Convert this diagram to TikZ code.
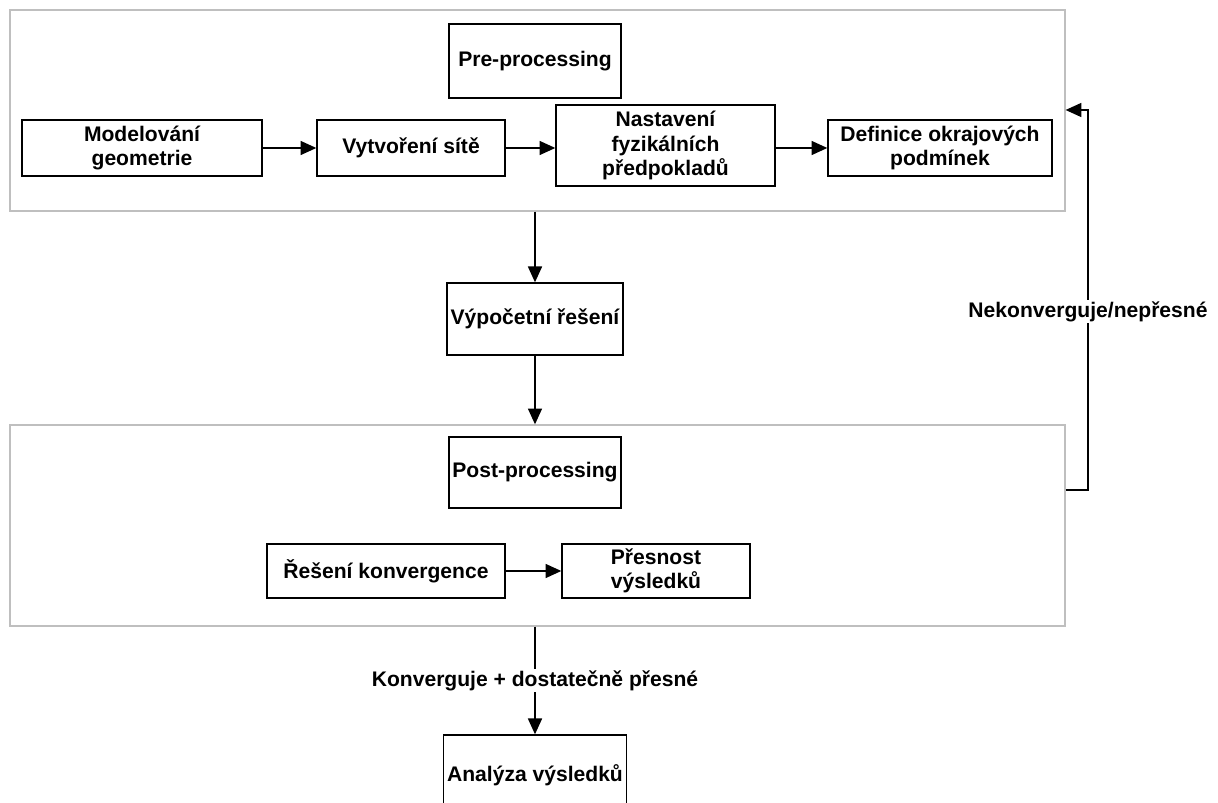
\documentclass[tikz,border=0pt]{standalone}
\usepackage{fontspec}
\setmainfont{Liberation Sans}
\usepackage{tikz}
\usetikzlibrary{calc}
\usetikzlibrary{positioning}
\usetikzlibrary{arrows.meta}

\begin{document}
\begin{tikzpicture}[x=0.02cm, y=-0.02cm,
    font=\bfseries\fontsize{12}{14}\selectfont,
    blok/.style={draw, thick, align=center, inner sep=2pt},
    ramec/.style={draw=black!25, thick, minimum width=21.1cm, minimum height=4.02cm},
    sipka/.style={-{Triangle[length=9pt, width=8pt]}, thick}]

                \useasboundingbox (0, 0) rectangle (1218, 803);

                % Frames round the pre- and post-processing steps
                \begin{scope}
                    \node[ramec] (R1) at (537.5, 110.5) {};
                    \node[ramec] (R2) at (537.5, 525.5) {};
                \end{scope}

                % Scope with the boxes
                \begin{scope}
                    \node[blok, minimum width=3.44cm, minimum height=1.48cm]
                    (PRE) at (535, 61) {Pre-processing};
                    \node[blok, minimum width=4.8cm, minimum height=1.12cm]
                    (MOD) at (142, 148) {Modelování\\geometrie};
                    \node[blok, minimum width=3.76cm, minimum height=1.12cm]
                    (SIT) at (411, 148) {Vytvoření sítě};
                    \node[blok, minimum width=4.38cm, minimum height=1.62cm]
                    (FYZ) at (665.5, 145.5) {Nastavení\\fyzikálních\\předpokladů};
                    \node[blok, minimum width=4.48cm, minimum height=1.12cm]
                    (OKR) at (940, 148) {Definice okrajových\\podmínek};

                    \node[blok, minimum width=3.44cm, minimum height=1.44cm]
                    (VYP) at (535, 319) {Výpočetní řešení};

                    \node[blok, minimum width=3.44cm, minimum height=1.42cm]
                    (POST) at (535, 472.5) {Post-processing};
                    \node[blok, minimum width=4.76cm, minimum height=1.08cm]
                    (KON) at (386, 571) {Řešení konvergence};
                    \node[blok, minimum width=3.76cm, minimum height=1.08cm]
                    (PRES) at (656, 571) {Přesnost\\výsledků};

                    \node[blok, minimum width=3.58cm, minimum height=1.6cm]
                    (ANA) at (535, 775) {Analýza výsledků};

                    \coordinate (Z1) at (1088, 490);
                    \coordinate (Z2) at (1088, 110);
                \end{scope}

                \begin{scope}[sipka]
                    \draw (MOD) -- (SIT);
                    \draw (SIT.east) -- (SIT.east -| FYZ.west);
                    \draw (OKR.west -| FYZ.east) -- (OKR.west);
                    \draw (R1.south -| VYP) -- (VYP);
                    \draw (VYP) -- (R2.north -| VYP);
                    \draw (KON) -- (PRES);
                    \draw (R2.south -| ANA) -- node[fill=white, inner sep=1pt]
                    {Konverguje + dostatečně přesné} (ANA);
                    \draw (Z1 -| R2.east) -- (Z1) -- node[pos=0.47, fill=white,
                    inner sep=1pt] {Nekonverguje/nepřesné} (Z2) -- (Z2 -| R1.east);
                \end{scope}

\end{tikzpicture}
\end{document}
